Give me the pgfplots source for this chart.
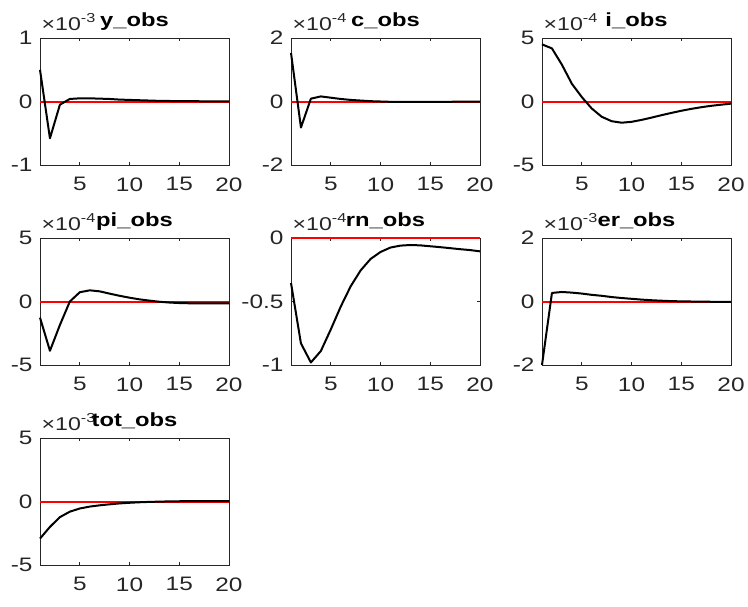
\documentclass[border=0pt]{standalone}
\usepackage{fontspec}
\setmainfont[FakeStretch=1.25]{Liberation Sans}
\usepackage{pgfplots}
\pgfplotsset{compat=1.18}
\definecolor{axgray}{RGB}{38,38,38}
\definecolor{zred}{RGB}{255,0,0}
\newcommand\tickfont{\fontsize{19.5}{22}\selectfont}
\newcommand\titlefont{\fontsize{19}{22}\selectfont\bfseries}
\newcommand\expfont{\fontsize{18.5}{21}\selectfont}
\newcommand\expo[1]{{\expfont ×10\raisebox{8.5pt}{\fontsize{13}{14}\selectfont #1}}}
\tikzset{expnode/.style={anchor=base west, xshift=1.5pt, yshift=7.5pt, text=axgray, inner sep=0pt}}
\pgfplotsset{
  irf/.style={
    width=189pt, height=127pt, scale only axis, anchor=north west,
    xmin=1, xmax=20, xtick={5,10,15,20}, xticklabels={5,10,15,20},
    tick align=inside, major tick length=3pt,
    axis line style={draw=axgray, line width=0.8pt},
    tick style={draw=axgray, line width=0.8pt},
    ticklabel style={font=\tickfont, text=axgray},
    xticklabel style={yshift=-9pt},
    yticklabel style={xshift=-4pt},
    title style={font=\titlefont, anchor=base, at={(0.5,1)}, yshift=6pt},
    clip=false,
  },
  irfline/.style={draw=black, line width=2pt, line join=round},
  zeroline/.style={draw=zred, line width=2pt},
}
\begin{document}
\begin{tikzpicture}
\useasboundingbox (0,0) rectangle (748pt,-606pt);
% y_obs
\begin{axis}[irf, at={(40pt,-38pt)}, ymin=-1, ymax=1, ytick={-1,0,1}, yticklabels={-1,0,1}, title={y\_obs}]
\addplot[zeroline] coordinates {(1,0) (20,0)};
\addplot[irfline] coordinates {(1,0.50) (2,-0.58) (3,-0.05) (4,0.04) (5,0.05) (6,0.05) (7,0.045) (8,0.04) (9,0.03) (10,0.025) (11,0.02) (12,0.015) (13,0.01) (14,0.008) (15,0.006) (16,0.005) (17,0.004) (18,0.003) (19,0.002) (20,0.002)};
\node[expnode] at (rel axis cs:0,1) {\expo{-3}};
\end{axis}
% c_obs
\begin{axis}[irf, at={(291pt,-38pt)}, ymin=-2, ymax=2, ytick={-2,0,2}, yticklabels={-2,0,2}, title={c\_obs}]
\addplot[zeroline] coordinates {(1,0) (20,0)};
\addplot[irfline] coordinates {(1,1.53) (2,-0.82) (3,0.09) (4,0.16) (5,0.12) (6,0.08) (7,0.05) (8,0.03) (9,0.01) (10,0.0) (11,-0.01) (12,-0.015) (13,-0.015) (14,-0.014) (15,-0.012) (16,-0.01) (17,-0.008) (18,-0.007) (19,-0.006) (20,-0.005)};
\node[expnode] at (rel axis cs:0,1) {\expo{-4}};
\end{axis}
% i_obs
\begin{axis}[irf, at={(542pt,-38pt)}, ymin=-5, ymax=5, ytick={-5,0,5}, yticklabels={-5,0,5}, title={i\_obs}]
\addplot[zeroline] coordinates {(1,0) (20,0)};
\addplot[irfline] coordinates {(1,4.5) (2,4.18) (3,2.9) (4,1.4) (5,0.35) (6,-0.55) (7,-1.2) (8,-1.55) (9,-1.67) (10,-1.6) (11,-1.45) (12,-1.27) (13,-1.08) (14,-0.9) (15,-0.73) (16,-0.58) (17,-0.45) (18,-0.34) (19,-0.25) (20,-0.17)};
\node[expnode] at (rel axis cs:0,1) {\expo{-4}};
\end{axis}
% pi_obs
\begin{axis}[irf, at={(40pt,-238pt)}, ymin=-5, ymax=5, ytick={-5,0,5}, yticklabels={-5,0,5}, title={pi\_obs}]
\addplot[zeroline] coordinates {(1,0) (20,0)};
\addplot[irfline] coordinates {(1,-1.27) (2,-3.88) (3,-1.85) (4,0.0) (5,0.73) (6,0.88) (7,0.8) (8,0.62) (9,0.45) (10,0.3) (11,0.17) (12,0.07) (13,-0.02) (14,-0.08) (15,-0.12) (16,-0.14) (17,-0.15) (18,-0.15) (19,-0.15) (20,-0.14)};
\node[expnode] at (rel axis cs:0,1) {\expo{-4}};
\end{axis}
% rn_obs
\begin{axis}[irf, at={(291pt,-238pt)}, ymin=-1, ymax=0, ytick={-1,-0.5,0}, yticklabels={-1,-0.5,0}, title={rn\_obs}]
\addplot[zeroline] coordinates {(1,0) (20,0)};
\addplot[irfline] coordinates {(1,-0.354) (2,-0.83) (3,-0.98) (4,-0.89) (5,-0.72) (6,-0.54) (7,-0.38) (8,-0.255) (9,-0.165) (10,-0.11) (11,-0.075) (12,-0.06) (13,-0.055) (14,-0.058) (15,-0.065) (16,-0.072) (17,-0.08) (18,-0.088) (19,-0.095) (20,-0.105)};
\node[expnode] at (rel axis cs:0,1) {\expo{-4}};
\end{axis}
% er_obs
\begin{axis}[irf, at={(542pt,-238pt)}, ymin=-2, ymax=2, ytick={-2,0,2}, yticklabels={-2,0,2}, title={er\_obs}]
\addplot[zeroline] coordinates {(1,0) (20,0)};
\addplot[irfline] coordinates {(1,-2.0) (2,0.27) (3,0.3) (4,0.28) (5,0.25) (6,0.21) (7,0.18) (8,0.14) (9,0.11) (10,0.085) (11,0.06) (12,0.04) (13,0.025) (14,0.012) (15,0.005) (16,0.0) (17,-0.005) (18,-0.008) (19,-0.01) (20,-0.01)};
\node[expnode] at (rel axis cs:0,1) {\expo{-3}};
\end{axis}
% tot_obs
\begin{axis}[irf, at={(40pt,-438pt)}, ymin=-5, ymax=5, ytick={-5,0,5}, yticklabels={-5,0,5}, title={tot\_obs}]
\addplot[zeroline] coordinates {(1,0) (20,0)};
\addplot[irfline] coordinates {(1,-2.92) (2,-2.0) (3,-1.23) (4,-0.8) (5,-0.55) (6,-0.4) (7,-0.3) (8,-0.22) (9,-0.15) (10,-0.1) (11,-0.06) (12,-0.03) (13,-0.01) (14,0.01) (15,0.02) (16,0.03) (17,0.03) (18,0.035) (19,0.035) (20,0.035)};
\node[expnode] at (rel axis cs:0,1) {\expo{-3}};
\end{axis}
\end{tikzpicture}
\end{document}
